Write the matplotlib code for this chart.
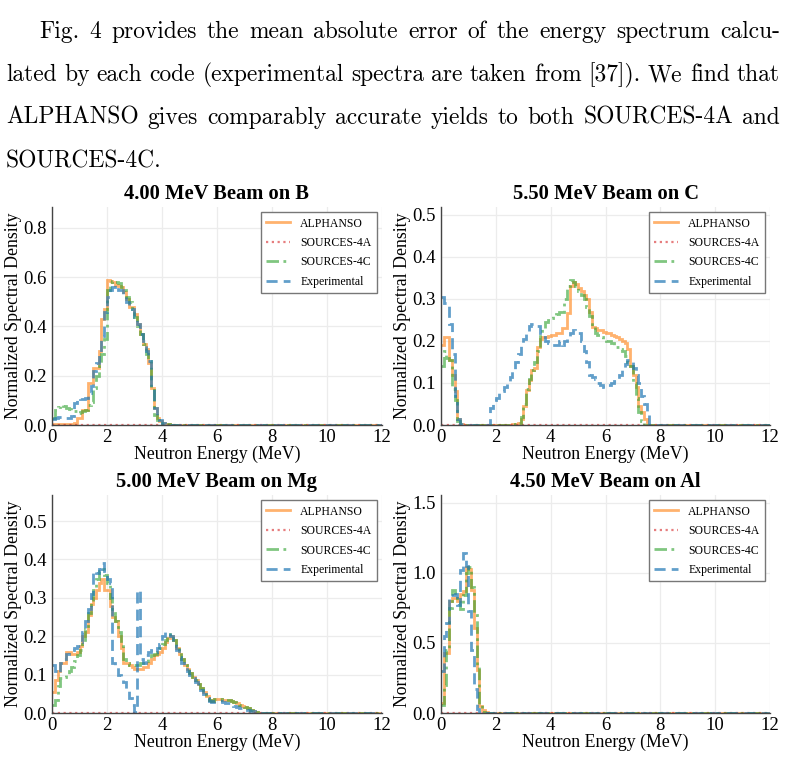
import matplotlib
matplotlib.use("Agg")
import matplotlib.pyplot as plt
import numpy as np

# ---------------- data (bin width 0.1 MeV starting at 0) ----------------
bin_width = 0.1
x_max = 12.0
x_ticks = [0, 2, 4, 6, 8, 10, 12]
series_names = ["ALPHANSO", "SOURCES-4A", "SOURCES-4C", "Experimental"]

titles = ["4.00 MeV Beam on B", "5.50 MeV Beam on C",
          "5.00 MeV Beam on Mg", "4.50 MeV Beam on Al"]

# Boron
alphanso_B = [0.003, 0.004, 0.004, 0.005, 0.005, 0.005, 0.006, 0.006, 0.008, 0.03,
              0.03, 0.06, 0.06, 0.17, 0.17, 0.23, 0.23, 0.30, 0.43, 0.47,
              0.59, 0.585, 0.58, 0.57, 0.565, 0.56, 0.54, 0.51, 0.48, 0.48,
              0.45, 0.41, 0.37, 0.33, 0.31, 0.25, 0.15, 0.07, 0.03, 0.015,
              0.008, 0.005, 0.004, 0.002, 0.001]
s4c_B = [0.03, 0.06, 0.075, 0.08, 0.078, 0.07, 0.065, 0.06, 0.055, 0.05,
         0.052, 0.055, 0.06, 0.08, 0.095, 0.15, 0.2, 0.24, 0.29, 0.35,
         0.55, 0.58, 0.585, 0.58, 0.575, 0.56, 0.55, 0.52, 0.50, 0.47,
         0.44, 0.40, 0.37, 0.33, 0.29, 0.26, 0.15, 0.04, 0.02, 0.01,
         0.008, 0.005, 0.003, 0.002, 0.001]
exp_B = [0.025, 0.03, 0.034, 0.034, 0.03, 0.03, 0.03, 0.035, 0.09, 0.108,
         0.105, 0.105, 0.11, 0.13, 0.16, 0.22, 0.25, 0.29, 0.36, 0.46,
         0.52, 0.55, 0.56, 0.57, 0.55, 0.55, 0.53, 0.50, 0.48, 0.47,
         0.44, 0.41, 0.37, 0.34, 0.30, 0.26, 0.15, 0.07, 0.04, 0.02,
         0.01, 0.006, 0.004, 0.002, 0.001]
s4a_B = [0.0]

# Carbon
alphanso_C = [0.19, 0.21, 0.21, 0.155, 0.12, 0.08, 0.015, 0.002, 0.0, 0.0,
              0.0, 0.0, 0.0, 0.0, 0.0, 0.0, 0.0, 0.0, 0.0, 0.0,
              0.0, 0.0, 0.0, 0.0, 0.0, 0.0, 0.002, 0.002, 0.005, 0.015,
              0.045, 0.083, 0.107, 0.13, 0.135, 0.186, 0.205, 0.21, 0.21, 0.212,
              0.215, 0.215, 0.22, 0.22, 0.23, 0.23, 0.266, 0.33, 0.34, 0.335,
              0.325, 0.32, 0.31, 0.30, 0.27, 0.234, 0.23, 0.227, 0.225, 0.222,
              0.22, 0.218, 0.215, 0.212, 0.21, 0.205, 0.20, 0.195, 0.18, 0.14,
              0.12, 0.09, 0.045, 0.03, 0.015, 0.0]
s4c_C = [0.14, 0.175, 0.16, 0.155, 0.085, 0.06, 0.01, 0.0, 0.0, 0.0,
         0.0, 0.0, 0.0, 0.0, 0.0, 0.0, 0.0, 0.0, 0.0, 0.0,
         0.0, 0.0, 0.0, 0.0, 0.0, 0.0, 0.0, 0.002, 0.005, 0.02,
         0.05, 0.085, 0.11, 0.13, 0.15, 0.175, 0.22, 0.23, 0.245, 0.25,
         0.255, 0.26, 0.265, 0.27, 0.27, 0.30, 0.33, 0.345, 0.34, 0.33,
         0.32, 0.31, 0.30, 0.28, 0.26, 0.235, 0.22, 0.215, 0.21, 0.205,
         0.20, 0.20, 0.195, 0.19, 0.185, 0.18, 0.175, 0.165, 0.15, 0.14,
         0.10, 0.065, 0.03, 0.01, 0.0]
exp_C = [0.305, 0.29, 0.29, 0.24, 0.17, 0.07, 0.015, 0.002, 0.0, 0.0,
         0.0, 0.0, 0.0, 0.0, 0.0, 0.0, 0.0, 0.0, 0.04, 0.06,
         0.065, 0.075, 0.08, 0.09, 0.10, 0.115, 0.13, 0.15, 0.17, 0.19,
         0.205, 0.22, 0.235, 0.24, 0.24, 0.235, 0.22, 0.21, 0.20, 0.195,
         0.19, 0.19, 0.19, 0.20, 0.19, 0.20, 0.21, 0.22, 0.225, 0.22,
         0.22, 0.20, 0.175, 0.15, 0.12, 0.115, 0.11, 0.10, 0.095, 0.09,
         0.09, 0.095, 0.10, 0.105, 0.11, 0.12, 0.13, 0.145, 0.155, 0.15,
         0.135, 0.12, 0.10, 0.07, 0.05, 0.03]
s4a_C = [0.0]

# Magnesium
alphanso_Mg = [0.055, 0.085, 0.11, 0.13, 0.13, 0.16, 0.16, 0.155, 0.155, 0.16,
               0.175, 0.20, 0.21, 0.255, 0.285, 0.30, 0.32, 0.34, 0.35, 0.32,
               0.32, 0.28, 0.25, 0.24, 0.20, 0.17, 0.13, 0.13, 0.125, 0.12,
               0.115, 0.115, 0.115, 0.12, 0.12, 0.13, 0.14, 0.15, 0.155, 0.16,
               0.17, 0.185, 0.195, 0.20, 0.19, 0.17, 0.155, 0.14, 0.125, 0.115,
               0.105, 0.095, 0.085, 0.075, 0.065, 0.055, 0.045, 0.035, 0.03, 0.036,
               0.037, 0.036, 0.035, 0.034, 0.033, 0.03, 0.028, 0.025, 0.022, 0.018,
               0.015, 0.012, 0.008, 0.005, 0.002]
s4c_Mg = [0.02, 0.035, 0.07, 0.09, 0.095, 0.10, 0.11, 0.12, 0.135, 0.15,
          0.165, 0.18, 0.22, 0.26, 0.29, 0.32, 0.35, 0.37, 0.375, 0.36,
          0.34, 0.30, 0.26, 0.24, 0.21, 0.18, 0.14, 0.13, 0.125, 0.125,
          0.125, 0.125, 0.13, 0.13, 0.135, 0.14, 0.15, 0.155, 0.16, 0.17,
          0.18, 0.19, 0.20, 0.205, 0.19, 0.175, 0.16, 0.14, 0.125, 0.115,
          0.105, 0.095, 0.085, 0.075, 0.065, 0.055, 0.045, 0.035, 0.03, 0.036,
          0.037, 0.036, 0.035, 0.034, 0.033, 0.03, 0.028, 0.025, 0.022, 0.018,
          0.015, 0.012, 0.008, 0.005, 0.002]
exp_Mg = [0.125, 0.11, 0.105, 0.13, 0.14, 0.155, 0.16, 0.165, 0.17, 0.175,
          0.185, 0.21, 0.24, 0.27, 0.31, 0.37, 0.365, 0.375, 0.39, 0.37,
          0.35, 0.34, 0.13, 0.12, 0.10, 0.09, 0.08, 0.06, 0.04, 0.02,
          0.003, 0.32, 0.14, 0.13, 0.15, 0.16, 0.165, 0.16, 0.17, 0.18,
          0.20, 0.21, 0.21, 0.20, 0.18, 0.165, 0.145, 0.13, 0.12, 0.11,
          0.10, 0.09, 0.08, 0.07, 0.06, 0.05, 0.04, 0.03, 0.028, 0.03,
          0.03, 0.03, 0.028, 0.027, 0.025, 0.02, 0.018, 0.016, 0.014, 0.012,
          0.01, 0.008, 0.006, 0.004, 0.002]
s4a_Mg = [0.0]

# Aluminium
alphanso_Al = [0.07, 0.43, 0.43, 0.80, 0.82, 0.82, 0.80, 0.85, 0.87, 1.04,
               1.03, 0.88, 0.61, 0.31, 0.05, 0.02, 0.005]
s4c_Al = [0.06, 0.20, 0.45, 0.75, 0.88, 0.86, 0.79, 0.74, 0.84, 1.00,
          1.04, 0.90, 0.70, 0.33, 0.06, 0.01]
exp_Al = [0.30, 0.55, 0.64, 0.84, 0.84, 0.85, 0.77, 1.02, 1.14, 1.05,
          0.73, 0.45, 0.17, 0.03, 0.01]
s4a_Al = [0.0]

y_ticks = [[0.0, 0.2, 0.4, 0.6, 0.8],
           [0.0, 0.1, 0.2, 0.3, 0.4, 0.5],
           [0.0, 0.1, 0.2, 0.3, 0.4, 0.5],
           [0.0, 0.5, 1.0, 1.5]]
y_tops = [0.885, 0.519, 0.568, 1.557]

panels = [
    (alphanso_B, s4a_B, s4c_B, exp_B),
    (alphanso_C, s4a_C, s4c_C, exp_C),
    (alphanso_Mg, s4a_Mg, s4c_Mg, exp_Mg),
    (alphanso_Al, s4a_Al, s4c_Al, exp_Al),
]

paragraph_lines = [
    "Fig. 4 provides the mean absolute error of the energy spectrum calcu-",
    "lated by each code (experimental spectra are taken from [37]). We find that",
    "ALPHANSO gives comparably accurate yields to both SOURCES-4A and",
    "SOURCES-4C.",
]

# ---------------- styles ----------------
styles = [
    dict(color="#ff7f0e", ls="-", lw=2.0, alpha=0.6),
    dict(color="#d62728", ls=(0, (1, 1.6)), lw=1.6, alpha=0.6),
    dict(color="#2ca02c", ls=(0, (4.5, 1.6, 1, 1.6)), lw=2.0, alpha=0.6),
    dict(color="#1f77b4", ls=(0, (4.0, 2.2)), lw=2.0, alpha=0.7),
]

W, H = 788, 758
fig = plt.figure(figsize=(W / 100, H / 100), dpi=100)
serif = "Liberation Serif"

axes_px = [(52, 207, 382, 425), (441, 207, 770, 425),
           (52, 495, 382, 713), (441, 495, 770, 713)]


def stairs_from(values):
    vals = list(values)
    if len(vals) == 1:
        edges = [0.0, x_max]
    else:
        edges = list(np.arange(len(vals) + 1) * bin_width)
        vals = vals + [0.0]
        edges = edges + [x_max]
    return vals, edges


for i, (x0, y0, x1, y1) in enumerate(axes_px):
    ax = fig.add_axes([x0 / W, 1 - y1 / H, (x1 - x0) / W, (y1 - y0) / H])
    for name, data, st in zip(series_names, panels[i], styles):
        vals, edges = stairs_from(data)
        ax.stairs(vals, edges, baseline=None, label=name, **st)
    ax.set_xlim(0, x_max)
    ax.set_ylim(0, y_tops[i])
    ax.set_xticks(x_ticks)
    ax.set_yticks(y_ticks[i])
    ax.set_yticklabels([f"{v:.1f}" for v in y_ticks[i]])
    ax.grid(True, color="#ececec", lw=0.9)
    ax.set_axisbelow(True)
    for s in ("top", "right"):
        ax.spines[s].set_visible(False)
    for s in ("left", "bottom"):
        ax.spines[s].set_color("#444444")
        ax.spines[s].set_linewidth(1.0)
    ax.tick_params(length=0, labelsize=13.5)
    ax.tick_params(axis="y", pad=3.6)
    ax.tick_params(axis="x", pad=3.0)
    for lab in ax.get_xticklabels() + ax.get_yticklabels():
        lab.set_fontfamily(serif)
    ax.set_title(titles[i], fontfamily=serif, fontweight="bold", fontsize=14.8, pad=6)
    ax.set_xlabel("Neutron Energy (MeV)", fontfamily=serif, fontsize=12.8, labelpad=0)
    ax.set_ylabel("Normalized Spectral Density", fontfamily=serif, fontsize=12.8, labelpad=1)
    leg = ax.legend(loc="upper right", prop=dict(family=serif, size=8.5),
                    frameon=True, fancybox=False, edgecolor="#777777",
                    framealpha=1.0, labelspacing=0.63, handlelength=2.0,
                    borderpad=0.45, handletextpad=0.85, borderaxespad=0.45)
    leg.get_frame().set_linewidth(1.0)

# ---------------- justified paragraph ----------------
fig.canvas.draw()
renderer = fig.canvas.get_renderer()
para_font = dict(family="cmr10", size=16.9)
baselines = [38, 81, 124, 167]
starts = [39, 6, 6, 6]
right_edge = 780
for k, line in enumerate(paragraph_lines):
    words = line.split(" ")
    if k == len(paragraph_lines) - 1:
        fig.text(starts[k] / W, 1 - baselines[k] / H, line, fontdict=para_font,
                 va="baseline", ha="left")
        continue
    widths = []
    for w in words:
        t = fig.text(0, 0, w, fontdict=para_font)
        widths.append(t.get_window_extent(renderer).width)
        t.remove()
    gap = (right_edge - starts[k] - sum(widths)) / (len(words) - 1)
    xpos = starts[k]
    for w, wd in zip(words, widths):
        fig.text(xpos / W, 1 - baselines[k] / H, w, fontdict=para_font,
                 va="baseline", ha="left")
        xpos += wd + gap

fig.savefig("out.png", dpi=100)
